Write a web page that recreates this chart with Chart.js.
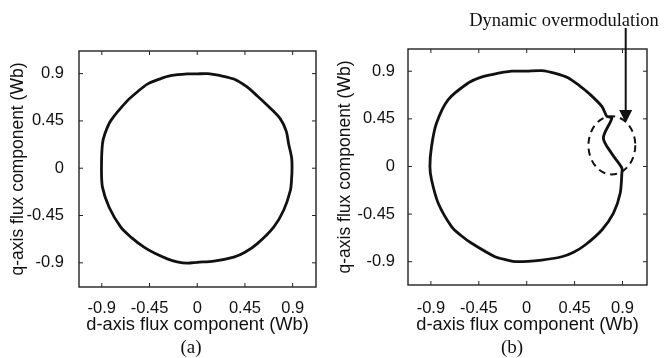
<!DOCTYPE html>
<html>
<head>
<meta charset="utf-8">
<script src="https://cdn.jsdelivr.net/npm/chart.js@4/dist/chart.umd.min.js"></script>
<style>
  body { margin: 0; background: #fff; }
  #wrap { position: relative; width: 665px; height: 358px; }
  canvas { position: absolute; top: 0; }
  .cap { position: absolute; font-family: "Liberation Serif", "Times New Roman", serif; font-size: 19px; color: #111; transform: translateX(-50%); line-height: 22px; }
</style>
</head>
<body>
<div id="wrap">
  <canvas id="chartA" style="left:0" width="332" height="358"></canvas>
  <canvas id="chartB" style="left:332px" width="333" height="358"></canvas>
  <div class="cap" style="left:191px; top:336px">(a)</div>
  <div class="cap" style="left:512px; top:336px">(b)</div>
</div>
<script>
// axis ticks shared by both panels
const tickValues = [-0.9, -0.45, 0, 0.45, 0.9]
const tickLabels = ["-0.9", "-0.45", "0", "0.45", "0.9"]

// (a) stator flux locus, d and q components (Wb)
const fluxDA = [0.0, 0.094, 0.22, 0.345, 0.46, 0.564, 0.68, 0.784, 0.84, 0.862, 0.89, 0.894, 0.89, 0.878, 0.815, 0.721, 0.564, 0.45, 0.345, 0.157, 0.0, -0.094, -0.19, -0.282, -0.40, -0.502, -0.62, -0.721, -0.831, -0.894, -0.903, -0.894, -0.87, -0.815, -0.658, -0.56, -0.47, -0.35, -0.25, -0.094, 0.0]
const fluxQA = [0.897, 0.90, 0.88, 0.848, 0.78, 0.69, 0.58, 0.469, 0.35, 0.231, 0.1, 0.0, -0.1, -0.212, -0.40, -0.56, -0.72, -0.80, -0.846, -0.884, -0.895, -0.903, -0.89, -0.862, -0.81, -0.751, -0.66, -0.561, -0.371, -0.18, 0.0, 0.231, 0.33, 0.453, 0.643, 0.73, 0.80, 0.85, 0.88, 0.897, 0.897]

// (b) flux locus with dynamic overmodulation
const fluxDB = [0.0, 0.141, 0.27, 0.392, 0.5, 0.58, 0.706, 0.753, 0.80, 0.72, 0.80, 0.894, 0.894, 0.878, 0.815, 0.706, 0.549, 0.44, 0.329, 0.141, -0.094, -0.2, -0.298, -0.517, -0.62, -0.706, -0.831, -0.894, -0.909, -0.894, -0.847, -0.737, -0.549, -0.44, -0.329, -0.141, 0.0]
const fluxQB = [0.9, 0.906, 0.88, 0.837, 0.76, 0.695, 0.568, 0.473, 0.458, 0.269, 0.12, -0.015, -0.063, -0.253, -0.442, -0.6, -0.742, -0.81, -0.853, -0.884, -0.9, -0.88, -0.853, -0.726, -0.65, -0.568, -0.347, -0.126, 0.0, 0.189, 0.41, 0.632, 0.789, 0.84, 0.868, 0.9, 0.9]

// annotation on (b)
const ovalCentre = [0.80, 0.20]
const ovalRadii = [0.22, 0.275]
const arrowTip = [0.93, 0.41]

const sansFont = "'Liberation Sans', Arial, sans-serif"
const ink = "#111"

// MATLAB style frame with inward ticks
const frameTicks = {
  id: "frameTicks",
  afterDraw(chart) {
    const { ctx, chartArea: a, scales } = chart
    ctx.save()
    ctx.strokeStyle = "#222"
    ctx.lineWidth = 1.4
    ctx.strokeRect(a.left, a.top, a.right - a.left, a.bottom - a.top)
    ctx.lineWidth = 1
    ctx.beginPath()
    tickValues.forEach(v => {
      const px = scales.x.getPixelForValue(v)
      ctx.moveTo(px, a.bottom); ctx.lineTo(px, a.bottom - 4)
      ctx.moveTo(px, a.top); ctx.lineTo(px, a.top + 4)
      const py = scales.y.getPixelForValue(v)
      ctx.moveTo(a.left, py); ctx.lineTo(a.left + 4, py)
      ctx.moveTo(a.right, py); ctx.lineTo(a.right - 4, py)
    })
    ctx.stroke()
    ctx.restore()
  }
}

// dashed oval, arrow and label for panel (b)
const overmodNote = {
  id: "overmodNote",
  afterDraw(chart) {
    const { ctx, scales } = chart
    const cx = scales.x.getPixelForValue(ovalCentre[0])
    const cy = scales.y.getPixelForValue(ovalCentre[1])
    const rx = scales.x.getPixelForValue(ovalCentre[0] + ovalRadii[0]) - cx
    const ry = cy - scales.y.getPixelForValue(ovalCentre[1] + ovalRadii[1])
    ctx.save()
    ctx.strokeStyle = ink
    ctx.lineWidth = 2
    ctx.setLineDash([7, 5])
    ctx.beginPath()
    ctx.ellipse(cx, cy, rx, ry, 0, 0, Math.PI * 2)
    ctx.stroke()
    ctx.setLineDash([])

    const tx = scales.x.getPixelForValue(arrowTip[0])
    const ty = scales.y.getPixelForValue(arrowTip[1])
    ctx.beginPath()
    ctx.moveTo(tx, 28); ctx.lineTo(tx, ty - 10)
    ctx.stroke()
    ctx.fillStyle = ink
    ctx.beginPath()
    ctx.moveTo(tx, ty); ctx.lineTo(tx - 6.5, ty - 13); ctx.lineTo(tx + 6.5, ty - 13)
    ctx.closePath()
    ctx.fill()

    ctx.font = "18.5px 'Liberation Serif', 'Times New Roman', serif"
    ctx.textAlign = "center"
    ctx.textBaseline = "alphabetic"
    ctx.fillText("Dynamic overmodulation", 232, 26)
    ctx.restore()
  }
}

function makePanel(canvasId, dVals, qVals, p, plugins) {
  const points = dVals.map((d, i) => ({ x: d, y: qVals[i] }))
  return new Chart(document.getElementById(canvasId), {
    type: "scatter",
    data: {
      datasets: [{
        data: points,
        showLine: true,
        borderColor: ink,
        borderWidth: 2.8,
        pointRadius: 0,
        tension: 0.3,
      }],
    },
    options: {
      responsive: false,
      animation: false,
      layout: { padding: { top: p.padTop, right: p.padRight, left: 0, bottom: 0 } },
      plugins: { legend: { display: false }, tooltip: { enabled: false } },
      scales: {
        x: {
          min: p.xMin, max: p.xMax,
          afterBuildTicks: s => { s.ticks = tickValues.map(v => ({ value: v })) },
          afterFit: s => { s.height = p.xHeight },
          grid: { display: false },
          border: { display: false },
          ticks: {
            autoSkip: false, maxRotation: 0, padding: p.xTickPad, color: ink,
            font: { family: sansFont, size: 16.5 },
            callback: v => tickLabels[tickValues.indexOf(v)],
          },
          title: {
            display: true, text: "d-axis flux component (Wb)", color: ink,
            font: { family: sansFont, size: 18.3 },
            padding: { top: 0, bottom: 22 },
          },
        },
        y: {
          min: p.yMin, max: p.yMax,
          afterBuildTicks: s => { s.ticks = tickValues.map(v => ({ value: v })) },
          afterFit: s => { s.width = p.yWidth },
          grid: { display: false },
          border: { display: false },
          ticks: {
            autoSkip: false, padding: p.yTickPad, color: ink,
            font: { family: sansFont, size: 16.5 },
            callback: v => tickLabels[tickValues.indexOf(v)],
          },
          title: {
            display: true, text: "q-axis flux component (Wb)", color: ink,
            font: { family: sansFont, size: 17.5 },
            padding: { top: p.yTitlePad, bottom: 0 },
          },
        },
      },
    },
    plugins: plugins,
  })
}

makePanel("chartA", fluxDA, fluxQA, {
  padTop: 51, padRight: 16, xHeight: 71, yWidth: 79,
  xMin: -1.115, xMax: 1.12, yMin: -1.13, yMax: 1.115,
  xTickPad: 4, yTickPad: 7, yTitlePad: 8,
}, [frameTicks])

makePanel("chartB", fluxDB, fluxQB, {
  padTop: 49, padRight: 18, xHeight: 73, yWidth: 76,
  xMin: -1.115, xMax: 1.13, yMin: -1.12, yMax: 1.11,
  xTickPad: 6, yTickPad: 5, yTitlePad: 3,
}, [frameTicks, overmodNote])
</script>
</body>
</html>
